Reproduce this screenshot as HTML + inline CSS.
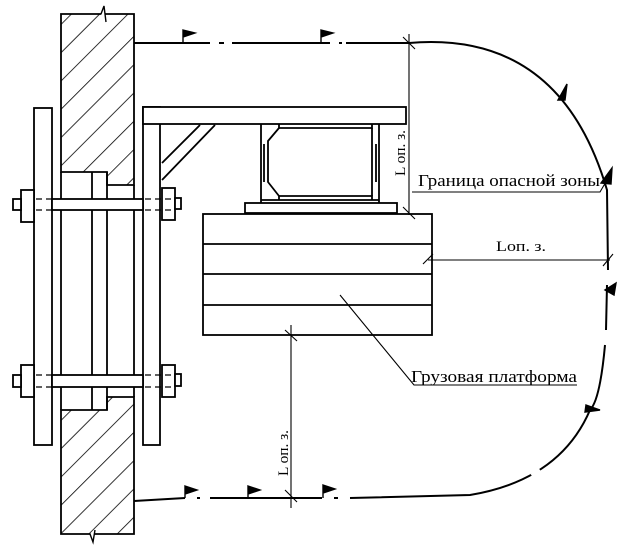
<!DOCTYPE html>
<html><head><meta charset="utf-8"><style>
html,body{margin:0;padding:0;background:#fff;}
svg{display:block;}
text{font-family:"Liberation Serif","Noto Serif CJK SC",serif;fill:#000;}
</style></head><body>
<svg width="628" height="559" viewBox="0 0 628 559" xmlns="http://www.w3.org/2000/svg">
<defs>
<pattern id="h" patternUnits="userSpaceOnUse" width="20" height="20" patternTransform="rotate(45)">
<line x1="0" y1="0" x2="0" y2="20" stroke="#000" stroke-width="1.6"/>
</pattern>
</defs>
<g stroke="#000" stroke-width="1.8" fill="none">
<path d="M61,14 L134,14 L134,185 L107,185 L107,172 L61,172 Z" fill="url(#h)"/>
<path d="M61,410 L107,410 L107,397 L134,397 L134,534 L61,534 Z" fill="url(#h)"/>
<line x1="61" y1="172" x2="61" y2="410"/>
<line x1="92" y1="172" x2="92" y2="410"/>
<line x1="107" y1="172" x2="107" y2="410"/>
<line x1="134" y1="185" x2="134" y2="397"/>
<path d="M101,14 L104,6 L106,22" fill="#fff" stroke-width="1.4"/>
<path d="M90,534 L93,542 L95,530" fill="#fff" stroke-width="1.4"/>
<rect x="34" y="108" width="18" height="337" fill="#fff"/>
<rect x="143" y="107" width="17" height="338" fill="#fff"/>
<rect x="52" y="199" width="91" height="11" fill="#fff"/>
<rect x="52" y="375" width="91" height="12" fill="#fff"/>
<rect x="21" y="190" width="13" height="32" fill="#fff"/>
<rect x="13" y="199" width="8" height="11" fill="#fff"/>
<rect x="162" y="188" width="13" height="32" fill="#fff"/>
<rect x="175" y="198" width="6" height="11" fill="#fff"/>
<rect x="21" y="365" width="13" height="32" fill="#fff"/>
<rect x="13" y="375" width="8" height="12" fill="#fff"/>
<rect x="162" y="365" width="13" height="32" fill="#fff"/>
<rect x="175" y="374" width="6" height="12" fill="#fff"/>
<g stroke-dasharray="6,4" stroke-width="1.2">
<line x1="36" y1="199" x2="52" y2="199"/><line x1="36" y1="210" x2="52" y2="210"/>
<line x1="145" y1="199" x2="175" y2="199"/><line x1="145" y1="210" x2="175" y2="210"/>
<line x1="36" y1="375" x2="52" y2="375"/><line x1="36" y1="387" x2="52" y2="387"/>
<line x1="145" y1="375" x2="175" y2="375"/><line x1="145" y1="387" x2="175" y2="387"/>
</g>
<rect x="143" y="107" width="263" height="17" fill="#fff"/>
<line x1="162" y1="163" x2="200" y2="125"/>
<line x1="162" y1="180" x2="215" y2="125"/>
<line x1="261" y1="124" x2="261" y2="203"/>
<line x1="379" y1="124" x2="379" y2="203"/>
<path d="M279,124 L279,128 L372,128 L372,124" />
<path d="M279,200 L279,196 L372,196 L372,200" />
<path d="M279,128 L268,141 L268,182 L279,196"/>
<path d="M372,128 L372,196"/>
<line x1="264" y1="144" x2="264" y2="182"/>
<line x1="376" y1="144" x2="376" y2="182"/>
<line x1="261" y1="200" x2="379" y2="200"/>
<rect x="245" y="203" width="152" height="10" fill="#fff"/>
<rect x="203" y="214" width="229" height="121" fill="#fff"/>
<line x1="203" y1="244" x2="432" y2="244"/>
<line x1="203" y1="274" x2="432" y2="274"/>
<line x1="203" y1="305" x2="432" y2="305"/>
</g>
<g stroke="#000" stroke-width="2" fill="none">
<path d="M134,43 L210,43 M219,43 L224,43 M232,43 L330,43 M339,43 L342,43 M346,43 L409,43"/>
<path d="M409,43 Q560,30 607,190 L608,270 M607,285 L606,330 M605,345 Q600,400 590,410 Q560,480 470,495 L350,498 M338,498 L334,498 M322,498 L210,498 M200,498 L197,498 M185,498 L134,501"/>
</g>
<g stroke="#fff" stroke-width="5">
<line x1="541" y1="56" x2="548" y2="60"/>
<line x1="583" y1="110" x2="587" y2="117"/>
<line x1="597" y1="135" x2="600" y2="148"/>
<line x1="602" y1="395" x2="596" y2="408"/>
<line x1="540" y1="470" x2="532" y2="476"/>
</g>
<g fill="#000" stroke="#000" stroke-width="1.4">
<path d="M183,43 L183,30 M183,30 L195,33 L183,37 Z"/>
<path d="M321,43 L321,30 M321,30 L333,33 L321,37 Z"/>
<path d="M185,498 L185,486 M185,486 L197,490 L185,494 Z"/>
<path d="M248,498 L248,486 M248,486 L260,490 L248,494 Z"/>
<path d="M323,498 L323,485 M323,485 L335,489 L323,493 Z"/>
<path d="M558,100 L567,84 L565,100 Z"/>
<path d="M601,183 L612,168 L611,184 Z"/>
<path d="M605,290 L616,283 L614,295 Z"/>
<path d="M586,405 L600,410 L585,412 Z"/>
</g>
<g stroke="#000" stroke-width="1.1" fill="none">
<line x1="409" y1="34" x2="409" y2="215"/>
<line x1="403" y1="37" x2="415" y2="49"/>
<line x1="403" y1="207" x2="415" y2="219"/>
<line x1="428" y1="260" x2="610" y2="260"/>
<line x1="423" y1="264" x2="433" y2="254"/>
<line x1="603" y1="266" x2="613" y2="254"/>
<line x1="291" y1="325" x2="291" y2="508"/>
<line x1="285" y1="330" x2="297" y2="341"/>
<line x1="285" y1="490" x2="297" y2="502"/>
<path d="M412,192 L600,192 L607,180"/>
<path d="M340,295 L414,385 L577,385"/>
</g>
<text x="418" y="186" font-size="17" textLength="182" lengthAdjust="spacingAndGlyphs">Граница опасной зоны</text>
<text x="496" y="251" font-size="15" textLength="50" lengthAdjust="spacingAndGlyphs">Lоп. з.</text>
<text x="411" y="382" font-size="17" textLength="166" lengthAdjust="spacingAndGlyphs">Грузовая платформа</text>
<text transform="translate(405,176) rotate(-90)" font-size="15" textLength="46" lengthAdjust="spacingAndGlyphs">L оп. з.</text>
<text transform="translate(288,476) rotate(-90)" font-size="15" textLength="46" lengthAdjust="spacingAndGlyphs">L оп. з.</text>
</svg>
</body></html>
